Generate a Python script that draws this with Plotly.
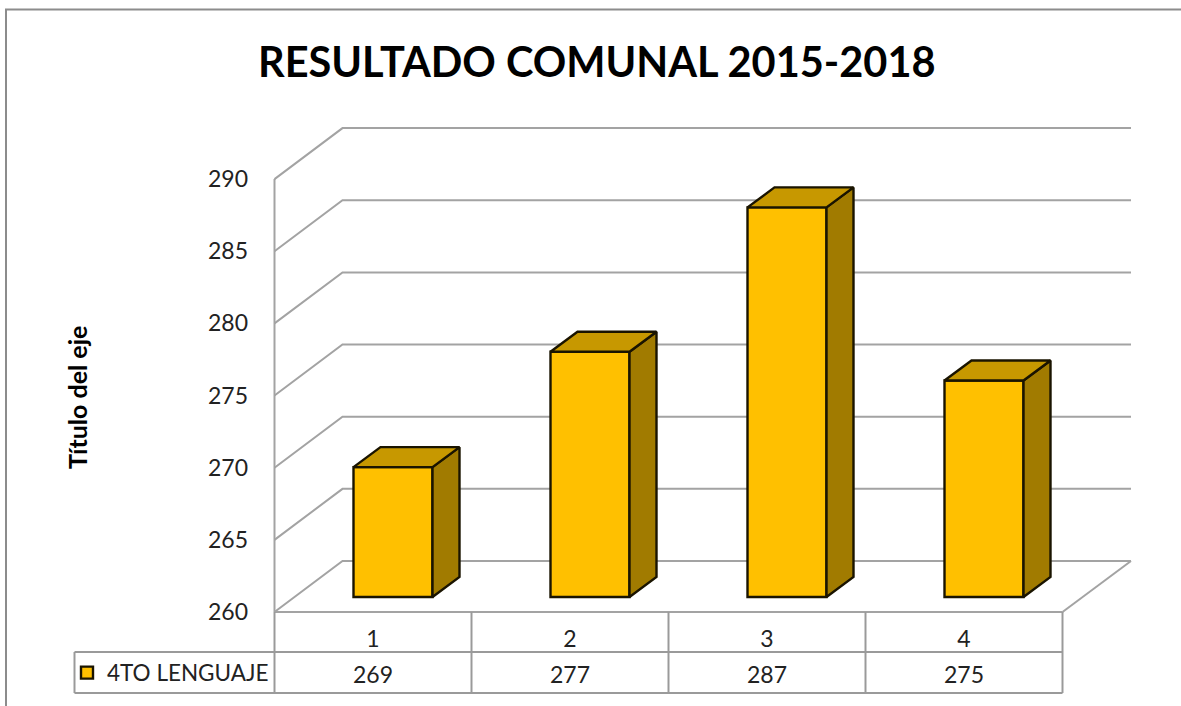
import plotly.graph_objects as go

TITLE = "RESULTADO COMUNAL 2015-2018"
Y_TITLE = "Título del eje"
SERIES = "4TO LENGUAJE"
categories = ["1", "2", "3", "4"]
values = [269, 277, 287, 275]
y_ticks = [260, 265, 270, 275, 280, 285, 290]

W, H = 1181, 706
L, R, T, B = 274.5, 1131, 129, 612          # chart box in page pixels
PL, PR, PT, PB = 268, 1137, 123, 618        # plot area, slightly larger so edge lines are not clipped
CAT_W = 197.0                               # pixels per category
Y0 = 260
PX_Y = 14.43                                # pixels per value unit
DEPTH_X, DEPTH_Y = 68 / CAT_W, 51 / PX_Y    # chart depth
BAR_DX, BAR_DY = 27 / CAT_W, 20 / PX_Y      # bar depth
BAR_W = 79 / CAT_W
BAR_OFF_X, BAR_OFF_Y = 20 / CAT_W, 15 / PX_Y

GRID = "#a3a3a3"
TABLE = "#9a9a9a"
FRONT, TOP, SIDE = "#FFC000", "#C79800", "#A17B00"
EDGE = "#1a1400"
EDGE_W = 2.4
INK = "#222222"
FONT = "Lato"


def xv(p):
    return (p - L) / CAT_W


def px(p):
    return (p - PL) / (PR - PL)


def py(p):
    return (PB - p) / (PB - PT)


n = len(categories)
centers = [i + 0.5 + BAR_OFF_X for i in range(n)]
base = Y0 + BAR_OFF_Y

fig = go.Figure()

# front faces
fig.add_trace(go.Bar(
    x=centers, y=[v - Y0 for v in values], base=base, width=BAR_W, name=SERIES,
    marker=dict(color=FRONT, line=dict(color=EDGE, width=EDGE_W)), showlegend=True,
))

# side and top faces derived from the values
for c, v in zip(centers, values):
    top = v + BAR_OFF_Y
    xr, xl = c + BAR_W / 2, c - BAR_W / 2
    fig.add_trace(go.Scatter(
        x=[xr, xr + BAR_DX, xr + BAR_DX, xr, xr],
        y=[base, base + BAR_DY, top + BAR_DY, top, base],
        mode="lines", fill="toself", fillcolor=SIDE,
        line=dict(color=EDGE, width=EDGE_W), showlegend=False, hoverinfo="skip",
    ))
    fig.add_trace(go.Scatter(
        x=[xl, xl + BAR_DX, xr + BAR_DX, xr, xl],
        y=[top, top + BAR_DY, top + BAR_DY, top, top],
        mode="lines", fill="toself", fillcolor=TOP,
        line=dict(color=EDGE, width=EDGE_W), showlegend=False, hoverinfo="skip",
    ))

# walls and floor with gridlines
shapes = []
grid_line = dict(color=GRID, width=2)
for t in y_ticks:
    shapes.append(dict(
        type="path", layer="below", line=grid_line,
        path=f"M 0 {t} L {DEPTH_X} {t + DEPTH_Y} L {xv(R)} {t + DEPTH_Y}",
    ))
shapes.append(dict(type="line", layer="below", line=grid_line,
                   x0=0, x1=0, y0=Y0, y1=y_ticks[-1]))
shapes.append(dict(type="line", layer="below", line=grid_line,
                   x0=0, x1=float(n), y0=Y0, y1=Y0))
shapes.append(dict(type="line", layer="below", line=grid_line,
                   x0=float(n), x1=xv(R), y0=Y0, y1=Y0 + DEPTH_Y))

# data table below the chart
TABLE_ROW1, TABLE_ROW2, TABLE_LEFT = 652, 693, 74.5
table_line = dict(color=TABLE, width=2)
for i in range(n + 1):
    xp = L + i * CAT_W
    shapes.append(dict(type="line", xref="paper", yref="paper", line=table_line,
                       x0=px(xp), x1=px(xp), y0=py(B), y1=py(TABLE_ROW2)))
for row in (TABLE_ROW1, TABLE_ROW2):
    shapes.append(dict(type="line", xref="paper", yref="paper", line=table_line,
                       x0=px(TABLE_LEFT), x1=px(L + n * CAT_W), y0=py(row), y1=py(row)))
shapes.append(dict(type="line", xref="paper", yref="paper", line=table_line,
                   x0=px(TABLE_LEFT), x1=px(TABLE_LEFT), y0=py(TABLE_ROW1), y1=py(TABLE_ROW2)))

# page frame: top and left edge
shapes.append(dict(type="path", xref="paper", yref="paper", layer="below",
                   line=dict(color="#8c8c8c", width=2),
                   path=f"M {px(6)} {py(706)} L {px(6)} {py(9.5)} L {px(1181)} {py(9.5)}"))

annotations = [
    dict(text=f"<b>{TITLE}</b>", xref="paper", yref="paper", x=px(596.5), y=py(61),
         showarrow=False, xanchor="center", yanchor="middle",
         font=dict(family=FONT, size=41.5, color="#000000")),
    dict(text=f"<b>{Y_TITLE}</b>", xref="paper", yref="paper", x=px(77), y=py(398),
         showarrow=False, textangle=-90, xanchor="center", yanchor="middle",
         font=dict(family=FONT, size=25, color="#000000")),
]
for i, v in enumerate(values):
    annotations.append(dict(
        text=str(v), x=i + 0.5, yref="paper", y=py(674), showarrow=False,
        xanchor="center", yanchor="middle",
        font=dict(family=FONT, size=23, color=INK),
    ))

fig.update_layout(
    width=W, height=H,
    margin=dict(l=PL, r=W - PR, t=PT, b=H - PB, autoexpand=False),
    paper_bgcolor="white", plot_bgcolor="white",
    font=dict(family=FONT, color=INK),
    shapes=shapes, annotations=annotations, barmode="overlay",
    xaxis=dict(
        range=[xv(PL), xv(PR)], tickmode="array",
        tickvals=[i + 0.5 for i in range(n)], ticktext=categories,
        ticks="", showgrid=False, zeroline=False, showline=False,
        ticklabelstandoff=5, tickfont=dict(family=FONT, size=23, color=INK),
    ),
    yaxis=dict(
        range=[Y0 - (PB - B) / PX_Y, Y0 + (B - PT) / PX_Y], tickmode="array", tickvals=y_ticks,
        ticks="", showgrid=False, zeroline=False, showline=False,
        ticklabelstandoff=19, tickfont=dict(family=FONT, size=23, color=INK),
    ),
    legend=dict(
        x=px(67), y=py(673), xanchor="left", yanchor="middle",
        bgcolor="rgba(0,0,0,0)", borderwidth=0, itemwidth=30,
        font=dict(family=FONT, size=22.5, color=INK),
    ),
)

fig.write_html("out.html", config={"displayModeBar": False},
               post_script="document.body.style.margin='0';")
